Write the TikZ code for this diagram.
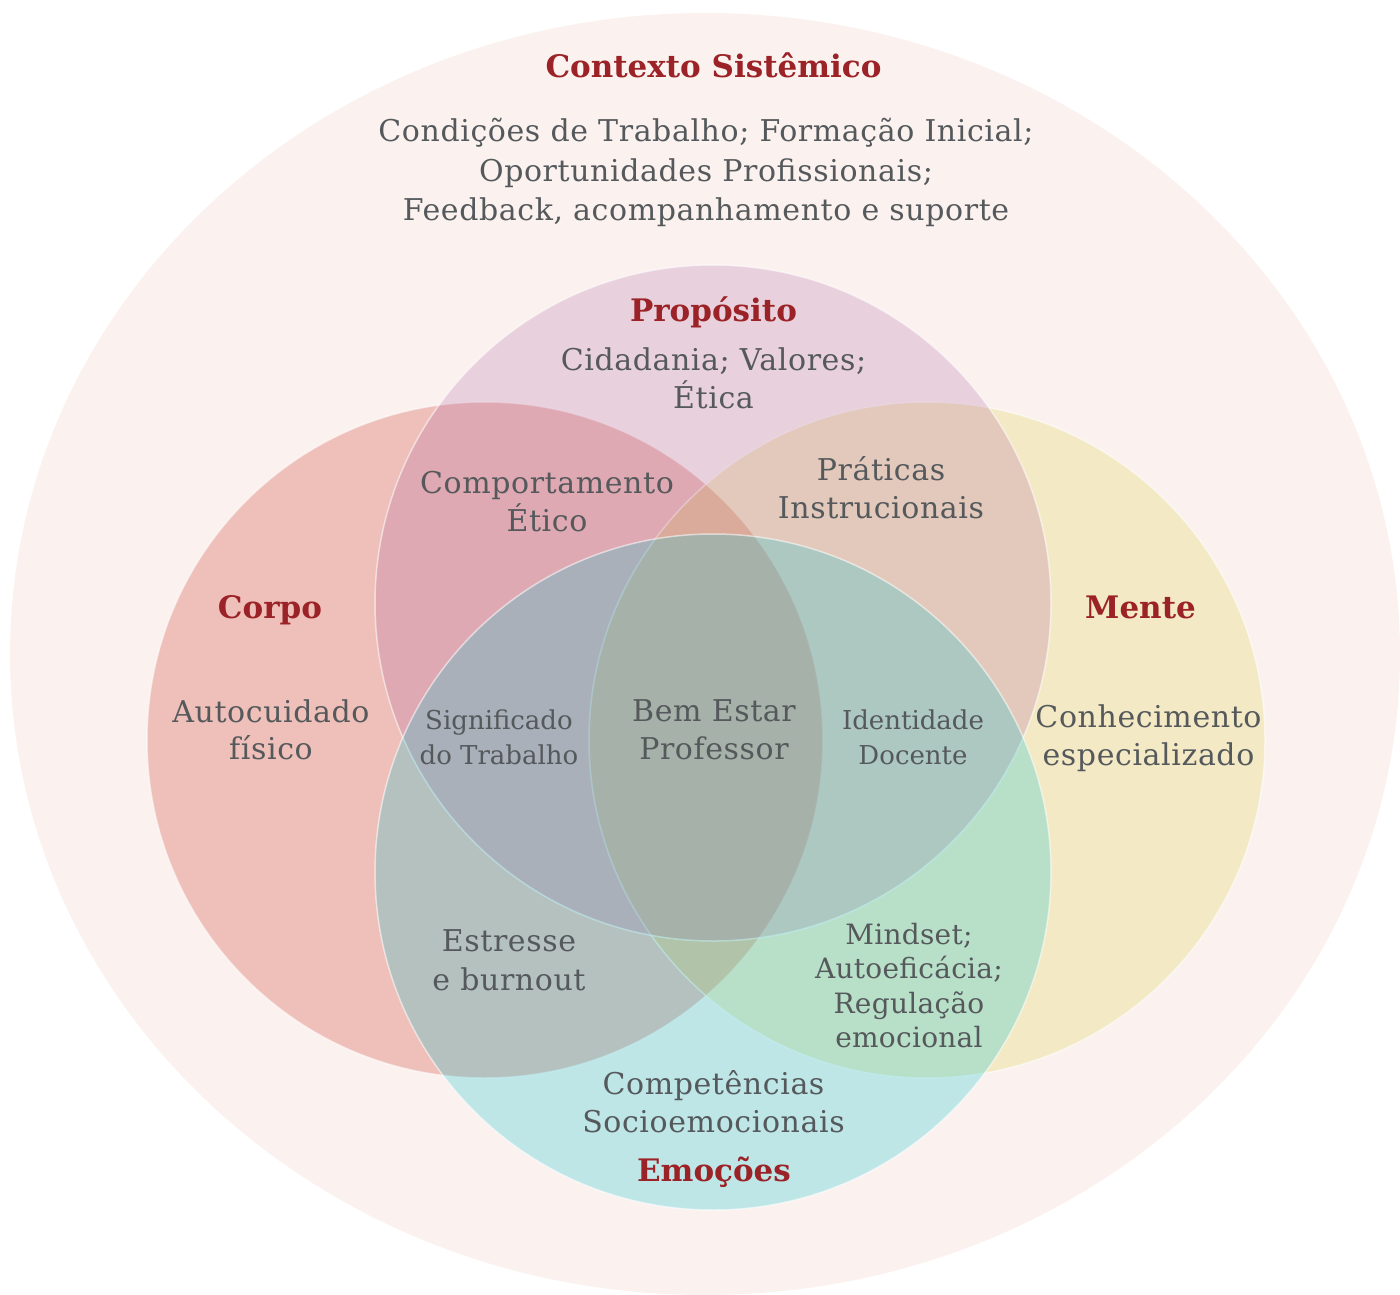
\documentclass[tikz,border=0pt]{standalone}
\usepackage{fontspec}
\setmainfont{DejaVu Serif}
\newfontfamily\spacedserif[LetterSpace=2]{DejaVu Serif}
\newfontfamily\lightspacedserif[LetterSpace=1]{DejaVu Serif}
\definecolor{ctxfill}{RGB}{251,242,239}
\definecolor{corpofill}{RGB}{210,77,63}
\definecolor{mentefill}{RGB}{218,202,49}
\definecolor{propfill}{RGB}{168,89,154}
\definecolor{emofill}{RGB}{28,198,210}
\definecolor{inkgray}{RGB}{85,89,92}
\definecolor{headred}{RGB}{155,34,38}
\begin{document}
\begin{tikzpicture}[x=1pt,y=-1pt,
  setcircle/.style={circle, minimum size=676pt, inner sep=0pt, outer sep=0pt,
    draw=white, draw opacity=0.55, line width=1.5pt},
  heading/.style={font=\fontsize{31}{36}\selectfont\bfseries, text=headred,
    anchor=base, inner sep=0pt},
  body/.style={font=\spacedserif\fontsize{30}{38}\selectfont, text=inkgray,
    anchor=base, inner sep=0pt},
  bodymid/.style={font=\lightspacedserif\fontsize{28}{34}\selectfont, text=inkgray,
    anchor=base, inner sep=0pt},
  bodysmall/.style={font=\fontsize{26}{32}\selectfont, text=inkgray,
    anchor=base, inner sep=0pt}]
\useasboundingbox (0,0) rectangle (1400,1295);

% systemic context
\fill[ctxfill] (705,654) ellipse [x radius=695, y radius=641];

% the four dimensions
\node[setcircle, fill=corpofill, fill opacity=0.30] (corpo) at (485,740) {};
\node[setcircle, fill=mentefill, fill opacity=0.22] (mente) at (927,740) {};
\node[setcircle, fill=propfill,  fill opacity=0.22] (proposito) at (713,603) {};
\node[setcircle, fill=emofill,   fill opacity=0.27] (emocoes) at (713,872) {};

% context texts
\node[heading] (ctxtitle) at (713.5,78) {Contexto Sistêmico};
\node[body] (ctxa) at (706,142) {Condições de Trabalho; Formação Inicial;};
\node[body] (ctxb) at (706,181) {Oportunidades Profissionais;};
\node[body] (ctxc) at (706,220) {Feedback, acompanhamento e suporte};

% purpose
\node[heading] (proptitle) at (713.5,321) {Propósito};
\node[body] (propa) at (713.5,370) {Cidadania; Valores;};
\node[body] (propb) at (713.5,408) {Ética};

% pairwise overlaps
\node[body] (ceta) at (547,493) {Comportamento};
\node[body] (cetb) at (547,531) {Ético};
\node[body] (pria) at (881,480) {Práticas};
\node[body] (prib) at (881,518) {Instrucionais};

% body
\node[heading] (corpotitle) at (270,618) {Corpo};
\node[body] (corpoa) at (271,722) {Autocuidado};
\node[body] (corpob) at (271,759) {físico};

% mind
\node[heading] (mentetitle) at (1140.5,618) {Mente};
\node[body] (mentea) at (1148.5,727) {Conhecimento};
\node[body] (menteb) at (1148.5,765) {especializado};

% triple overlaps and centre
\node[bodysmall] (sigta) at (499,729) {Significado};
\node[bodysmall] (sigtb) at (499,764) {do Trabalho};
\node[body] (bema) at (714,721) {Bem Estar};
\node[body] (bemb) at (714,759) {Professor};
\node[bodysmall] (idda) at (913,729) {Identidade};
\node[bodysmall] (iddb) at (913,764) {Docente};

% lower overlaps
\node[body] (esta) at (509,951) {Estresse};
\node[body] (estb) at (509,990) {e burnout};
\node[bodymid] (mina) at (909,944) {Mindset;};
\node[bodymid] (minb) at (909,978) {Autoeficácia;};
\node[bodymid] (minc) at (909,1013) {Regulação};
\node[bodymid] (mind) at (909,1047) {emocional};

% emotions
\node[body] (emoa) at (713.5,1094) {Competências};
\node[body] (emob) at (713.5,1132) {Socioemocionais};
\node[heading] (emotitle) at (714,1181) {Emoções};
\end{tikzpicture}
\end{document}
